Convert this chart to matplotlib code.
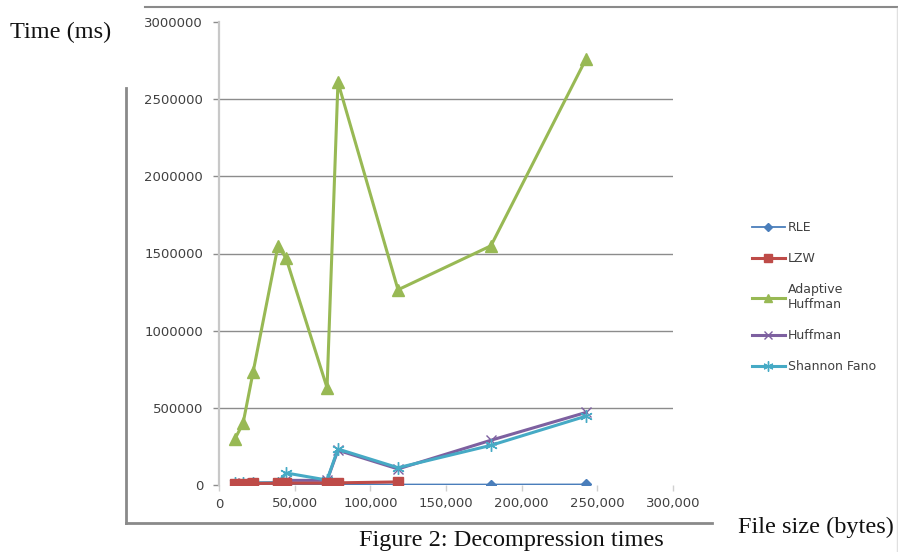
import matplotlib.pyplot as plt
from matplotlib.lines import Line2D
from matplotlib.ticker import FuncFormatter

# file sizes (bytes) of the test files
file_sizes = [10600, 15900, 22500, 39000, 44300, 71400, 78600, 118300, 179700, 242500]
lzw_sizes = file_sizes[:8]

# decompression times (ms)
rle = [1500, 2000, 2500, 3000, 3500, 4000, 4500, 3000, 3000, 3500]
lzw = [8000, 9000, 10000, 11000, 12000, 12000, 14000, 20000]
adaptive_huffman = [300000, 400000, 730000, 1550000, 1470000, 630000, 2610000,
                    1265000, 1550000, 2760000]
huffman = [8000, 10000, 12000, 15000, 30000, 30000, 225000, 104000, 290000, 470000]
shannon_fano = [10000, 12000, 14000, 13000, 78000, 32000, 233000, 112000, 257000, 446000]

x_ticks = [0, 50000, 100000, 150000, 200000, 250000, 300000]
y_ticks = [0, 500000, 1000000, 1500000, 2000000, 2500000, 3000000]

W, H = 898, 552
fig = plt.figure(figsize=(W / 100, H / 100), dpi=100)
ax = fig.add_axes([219 / W, 1 - 485 / H, (673 - 219) / W, (485 - 22) / H])

ax.plot(file_sizes, rle, color="#4a7ebb", lw=1.3, marker="D", ms=5,
        label="RLE", zorder=3)
ax.plot(lzw_sizes, lzw, color="#be4b48", lw=2.2, marker="s", ms=7,
        label="LZW", zorder=6)
ax.plot(file_sizes, adaptive_huffman, color="#98b954", lw=2.2, marker="^", ms=8,
        label="Adaptive\nHuffman", zorder=4)
ax.plot(file_sizes, huffman, color="#7d60a0", lw=2.2, marker="x", ms=7, mew=1,
        label="Huffman", zorder=4)
ax.plot(file_sizes, shannon_fano, color="#46aac5", lw=2.2, marker=(6, 2, 0), ms=9,
        mew=1, label="Shannon Fano", zorder=5)

ax.set_xlim(0, 300000)
ax.set_ylim(0, 3000000)
ax.set_xticks(x_ticks)
ax.set_yticks(y_ticks)
ax.xaxis.set_major_formatter(FuncFormatter(lambda v, p: f"{int(v):,}"))
ax.yaxis.set_major_formatter(FuncFormatter(lambda v, p: f"{int(v)}"))

ax.grid(axis="y", color="#8c8c8c", lw=1)
grid_lines = ax.get_ygridlines()
grid_lines[0].set_visible(False)
grid_lines[-1].set_visible(False)
ax.set_axisbelow(True)

for side in ["top", "right", "bottom"]:
    ax.spines[side].set_visible(False)
ax.spines["left"].set_color("#c8c8c8")
ax.spines["left"].set_linewidth(1.6)

ax.tick_params(axis="y", length=4.5, width=1, color="#8c8c8c", pad=7,
               labelsize=9.5, labelcolor="#404040")
ax.tick_params(axis="x", length=4, width=1, color="#d0d0d0", pad=5,
               labelsize=9.5, labelcolor="#404040")

leg = fig.legend(loc="upper left", bbox_to_anchor=(752 / W, 1 - 221 / H),
                 frameon=False, fontsize=9, labelspacing=1.45, handlelength=2.6,
                 handletextpad=0.25, borderpad=0, borderaxespad=0, markerscale=0.8)
for t in leg.get_texts():
    t.set_color("#404040")

# surrounding page frame lines
gray = "#8a8a8a"
fig.add_artist(Line2D([145 / W, 1], [1 - 7 / H, 1 - 7 / H], color=gray, lw=1.5))
fig.add_artist(Line2D([897 / W, 897 / W], [1 - 8 / H, 0], color="#e0e0e0", lw=1))
fig.add_artist(Line2D([126 / W, 126 / W], [1 - 88 / H, 1 - 523 / H], color=gray, lw=2))
fig.add_artist(Line2D([126 / W, 712 / W], [1 - 523 / H, 1 - 523 / H], color=gray, lw=2))

serif = "Liberation Serif"
fig.text(10 / W, 1 - 32 / H, "Time (ms)", family=serif, fontsize=17.5,
         va="center", ha="left", color="#111111")
fig.text(738 / W, 1 - 527 / H, "File size (bytes)", family=serif, fontsize=17.5,
         va="center", ha="left", color="#111111")
fig.text(511 / W, 1 - 530 / H, "Figure 2: Decompression times", family=serif,
         fontsize=17.5, va="top", ha="center", color="#111111")

fig.savefig("out.png", dpi=100)
